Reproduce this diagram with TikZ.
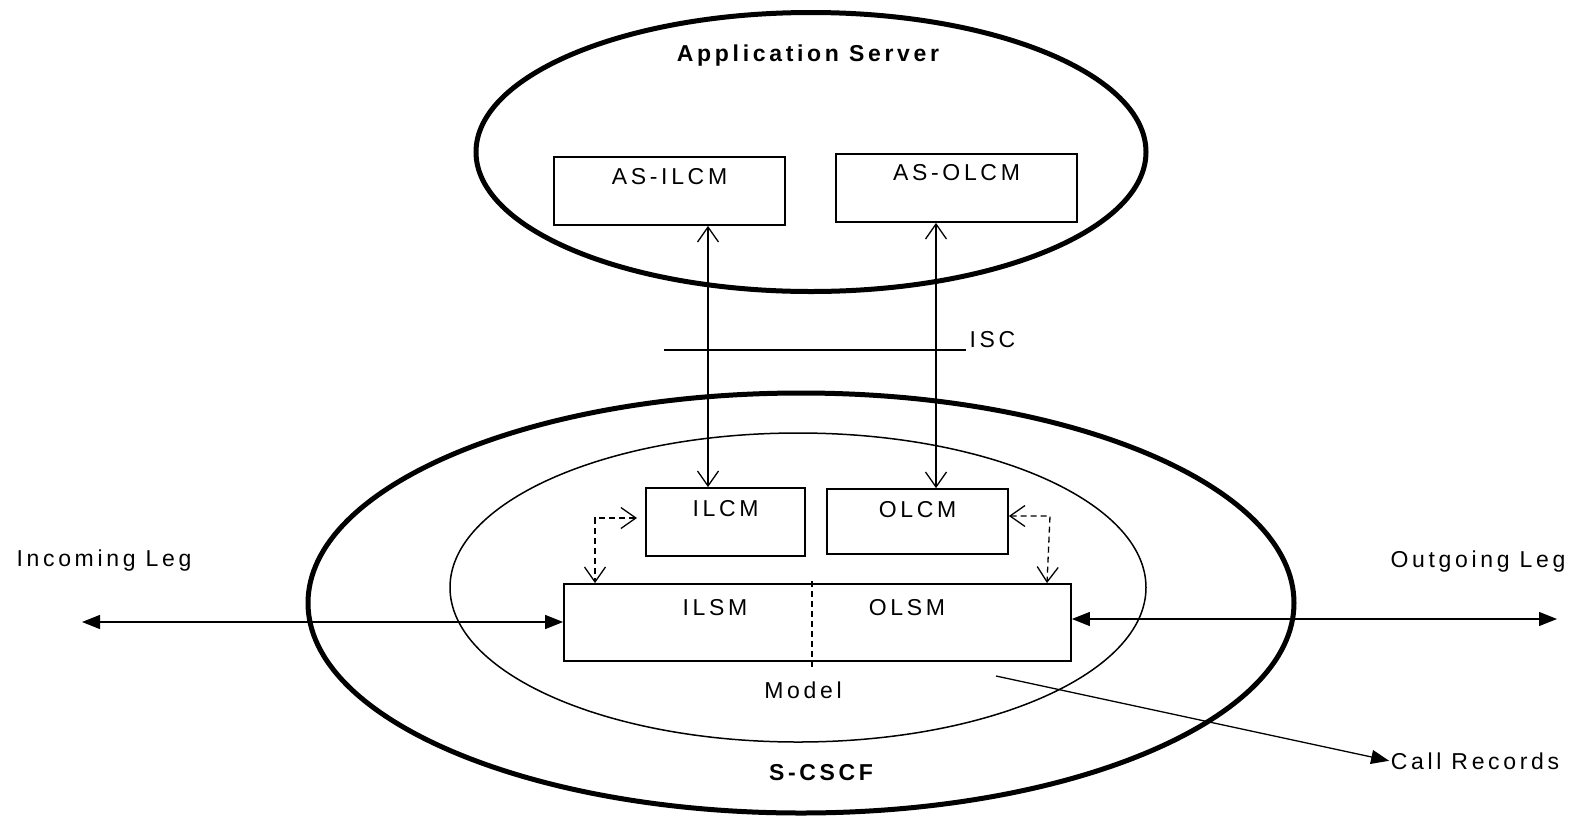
\documentclass[tikz,border=0pt]{standalone}
\usepackage{fontspec}
\newfontfamily\arialsp{Liberation Sans}[LetterSpace=16]
\usepackage{tikz}
\usetikzlibrary{arrows.meta,positioning}

\begin{document}
\begin{tikzpicture}[
	x=1pt, y=-1pt,
	>={Triangle[length=18pt,width=14pt]},
	line width=1.3pt,
	lbl/.style={font=\arialsp\fontsize{23}{27}\selectfont, inner sep=1pt},
	bold/.style={lbl, font=\arialsp\bfseries\fontsize{23}{27}\selectfont},
	box/.style={draw, line width=1.8pt, lbl, text height=16pt, text depth=#1},
	iface/.style={{Straight Barb[length=15pt,width=21pt]}-{Straight Barb[length=15pt,width=21pt]}},
	dsh/.style={dashed, dash pattern=on 6pt off 4pt, iface}
  ]
  \useasboundingbox (0,0) rectangle (1575,815);

  % Application Server
  \draw[line width=5pt] (811,152) ellipse [x radius=335, y radius=139.5];
  \node[bold, anchor=base] (as) at (808,61) {Application Server};
  \node[box=29pt, minimum width=231pt, minimum height=68pt] (asi) at (669.5,191) {AS-ILCM};
  \node[box=31pt, minimum width=241pt, minimum height=68pt] (aso) at (956.5,188) {AS-OLCM};

  % S-CSCF
  \draw[line width=5pt] (801,603) ellipse [x radius=493, y radius=210];
  \draw[line width=1.5pt] (798,587.5) ellipse [x radius=348, y radius=154.5];
  \node[bold, anchor=base] (scscf) at (821,780) {S-CSCF};
  \node[box=27pt, minimum width=159pt, minimum height=68pt] (ilcm) at (725.5,522) {ILCM};
  \node[box=24pt, minimum width=181pt, minimum height=65pt] (olcm) at (917.5,521.5) {OLCM};
  \node[draw, line width=1.8pt, minimum width=507pt, minimum height=77pt] (model) at (817.5,622.5) {};
  \node[lbl, anchor=base] (ilsm) at (715,615) {ILSM};
  \node[lbl, anchor=base] (olsm) at (907,615) {OLSM};
  \node[lbl, anchor=base] (mdl) at (803,698) {Model};

  \node[lbl, anchor=base] (inc) at (104,566) {Incoming Leg};
  \node[lbl, anchor=base] (outg) at (1478,567) {Outgoing Leg};
  \node[lbl, anchor=base] (calls) at (1475,769) {Call Records};

  % ISC
  \coordinate (isca) at (664,350);
  \coordinate (iscb) at (966,350);
  \draw (isca) -- (iscb);
  \node[lbl, anchor=base west] (isc) at (968,347) {ISC};
  \coordinate (xi) at (708,0);
  \coordinate (xo) at (936,0);
  \draw[iface] (asi.south -| xi) -- (ilcm.north -| xi);
  \draw[iface] (aso.south -| xo) -- (olcm.north -| xo);

  % dashed links
  \coordinate (dl) at (595,518);
  \coordinate (dl2) at (637,518);
  \draw[dsh] (dl2) -- (dl) -- (dl |- model.north);
  \coordinate (dr) at (1050,516);
  \coordinate (dr2) at (1047,0);
  \draw[dsh] (olcm.east |- dr) -- (dr) -- (dr2 |- model.north);
  \coordinate (div) at (812,0);
  \draw[dashed, dash pattern=on 6pt off 4pt] ([yshift=2pt]model.north -| div) -- ([yshift=-8pt]model.south -| div);

  % legs
  \coordinate (incl) at (82,622);
  \draw[<->] (incl) -- (incl -| model.west);
  \coordinate (outr) at (1557,619);
  \draw[<->] (outr -| model.east) -- (outr);
  \coordinate (crs) at (996,676);
  \draw[->] (crs) -- (calls.west);

\end{tikzpicture}
\end{document}
